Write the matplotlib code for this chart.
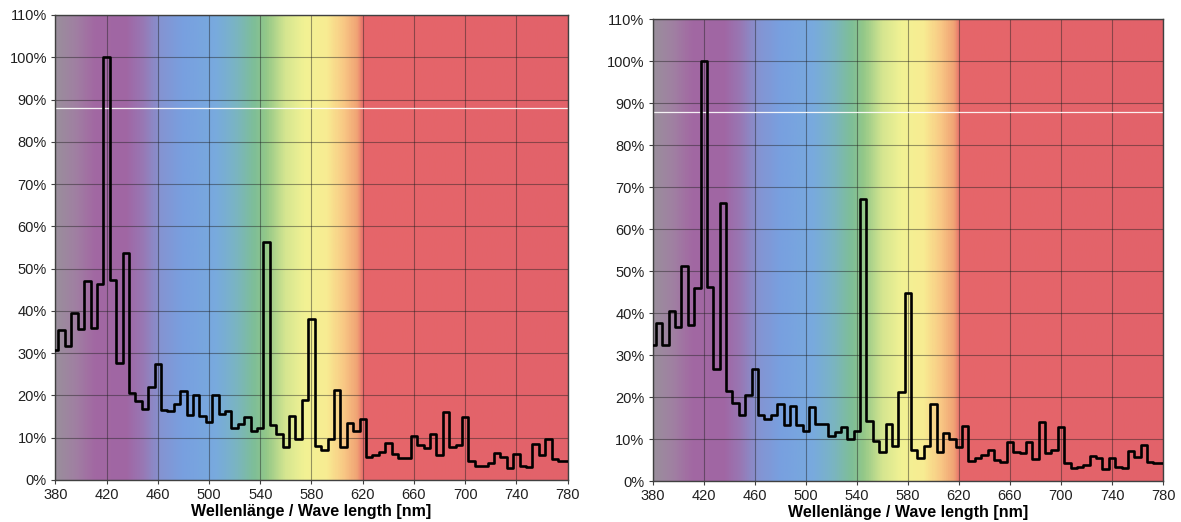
import numpy as np
import matplotlib
matplotlib.use("Agg")
import matplotlib.pyplot as plt
from matplotlib.colors import LinearSegmentedColormap
from matplotlib.ticker import FuncFormatter, MultipleLocator

plt.rcParams['font.family'] = ['Liberation Sans', 'DejaVu Sans']

# Wellenlängen in 5-nm-Schritten, 380..780
wavelength = list(range(380, 781, 5))
x_ticks = list(range(380, 781, 40))

# relative Intensität in % (linkes Diagramm)
spec_left = [
    30.8, 35.4, 31.6, 39.6, 35.6, 47.1, 36.0, 46.4, 100.0, 47.4,
    27.6, 53.8, 20.6, 18.8, 16.9, 22.1, 27.5, 16.6, 16.4, 17.9,
    21.1, 15.3, 20.1, 15.1, 13.8, 20.1, 15.5, 16.3, 12.3, 13.3,
    14.9, 11.7, 12.4, 56.2, 12.9, 10.9, 7.9, 15.2, 9.6, 18.9,
    38.0, 8.0, 7.1, 9.6, 21.4, 7.8, 13.5, 11.6, 14.4, 5.4,
    6.0, 6.7, 8.8, 6.2, 5.2, 5.3, 10.4, 8.3, 7.5, 10.8,
    5.9, 16.0, 7.7, 8.3, 15.0, 4.6, 3.3, 3.4, 3.9, 6.3,
    5.5, 2.9, 6.2, 3.4, 3.0, 8.4, 5.9, 9.7, 4.9, 4.5,
    4.5,
]

# relative Intensität in % (rechtes Diagramm)
spec_right = [
    32.4, 37.6, 32.4, 40.6, 36.8, 51.2, 37.2, 46.1, 100.0, 46.3,
    26.6, 66.3, 21.5, 18.5, 15.7, 20.6, 26.6, 15.7, 14.8, 15.7,
    18.3, 13.3, 17.9, 13.3, 12.0, 17.6, 13.7, 13.7, 10.8, 11.6,
    12.9, 10.0, 11.8, 67.2, 14.4, 9.6, 7.0, 13.6, 8.4, 21.3,
    44.9, 7.4, 5.6, 8.4, 18.3, 6.9, 11.5, 10.0, 8.2, 13.2,
    4.8, 5.6, 6.1, 7.4, 5.0, 4.6, 9.4, 7.0, 6.6, 9.4,
    5.2, 14.0, 6.6, 7.4, 12.8, 4.4, 3.2, 3.3, 3.8, 6.0,
    5.4, 2.8, 5.6, 3.3, 3.0, 7.2, 5.8, 8.6, 4.6, 4.4,
    4.2,
]

# Farbverlauf des Spektrums als Hintergrund
stops_nm = [380, 395, 410, 435, 448, 462, 480, 505, 520, 535, 545, 560, 575, 592, 606, 616, 621, 780]
stops_col = ['#9a8e9c', '#a080a2', '#a268a2', '#a066a4', '#9878b4', '#8494d2', '#78a0e0',
             '#78aade', '#7ab4c4', '#7ebe98', '#94c888', '#d6e690', '#f2f294', '#f8ec92',
             '#f8c684', '#f0a274', '#e6666a', '#e2626a']
spec_cmap = LinearSegmentedColormap.from_list(
    'spec', [((n - 380) / 400, c) for n, c in zip(stops_nm, stops_col)])

fig = plt.figure(figsize=(11.81, 5.22), dpi=100)
ax_l = fig.add_axes([0.0468, 0.0805, 0.4339, 0.8908])
ax_r = fig.add_axes([0.5527, 0.0785, 0.4321, 0.8845])

bg = np.linspace(380, 780, 800).reshape(1, -1)

for ax, vals in [(ax_l, spec_left), (ax_r, spec_right)]:
    ax.imshow(bg, cmap=spec_cmap, vmin=380, vmax=780, extent=[380, 780, 0, 110],
              aspect='auto', origin='lower', zorder=0)
    ax.set_xlim(380, 780)
    ax.set_ylim(0, 110)
    ax.set_xticks(x_ticks)
    ax.yaxis.set_major_locator(MultipleLocator(10))
    ax.yaxis.set_major_formatter(FuncFormatter(lambda v, p: f"{v:.0f}%"))
    ax.grid(True, color='#202020', alpha=0.45, lw=0.8, zorder=1)
    ax.axhline(88, color='white', lw=0.9, alpha=0.9, zorder=2)
    ax.step(wavelength, vals, where='mid', color='black', lw=1.9, zorder=3)
    ax.tick_params(direction='out', length=3, width=0.8, color='#404040',
                   labelsize=10.5, colors='#202020', pad=3)
    for s in ax.spines.values():
        s.set_color('#404040')
        s.set_linewidth(1.0)
    ax.set_xlabel('Wellenlänge / Wave length [nm]', fontsize=11.5,
                  fontweight='bold', labelpad=1)

fig.savefig('out.png', dpi=100)
